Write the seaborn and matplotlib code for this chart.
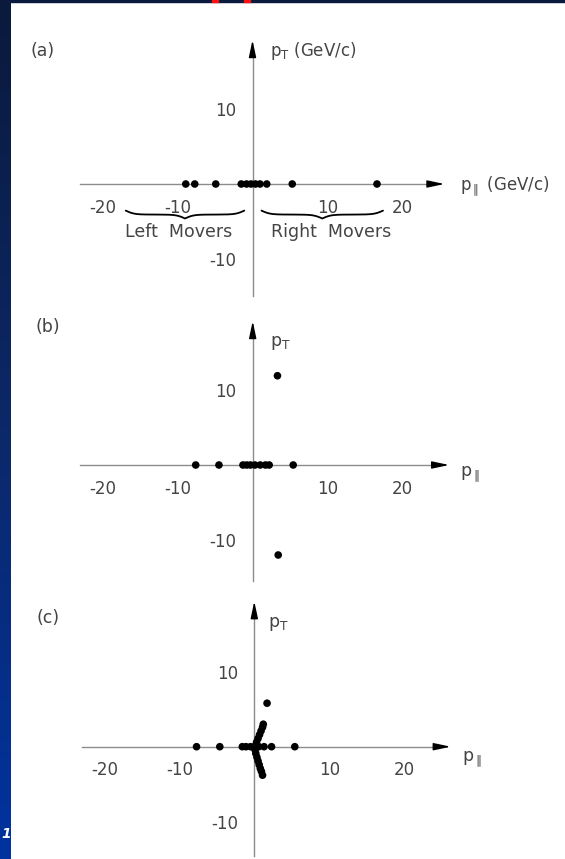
import numpy as np
import pandas as pd
import matplotlib
matplotlib.use("Agg")
import matplotlib.pyplot as plt
from matplotlib.patches import Rectangle
from matplotlib.colors import LinearSegmentedColormap
import seaborn as sns

sns.set_theme(style="white")
plt.rcParams["font.family"] = ["DejaVu Sans"]
plt.rcParams["axes.unicode_minus"] = False
plt.rcParams["mathtext.default"] = "regular"

# Longitudinal / transverse momenta (GeV/c) of the final-state particles
a_plong = [-8.9, -7.7, -4.9, -1.5, -0.8, -0.2, 0.4, 1.0, 1.9, 5.3, 16.6]
a_ptrans = [0, 0, 0, 0, 0, 0, 0, 0, 0, 0, 0]

b_plong = [-7.6, -4.5, -1.3, -0.8, -0.3, 0.3, 1.0, 1.7, 2.2, 5.4, 3.3, 3.4]
b_ptrans = [0, 0, 0, 0, 0, 0, 0, 0, 0, 0, 11.9, -12.0]

c_plong = [-7.7, -4.6, -1.6, -1.1, -0.5, 0.0, 0.6, 1.3, 2.3, 5.4, 1.7,
           0.3, 0.5, 0.7, 0.9, 1.1, 1.2,
           0.1, 0.2, 0.35, 0.5, 0.65, 0.8, 0.95, 1.1]
c_ptrans = [0, 0, 0, 0, 0, 0, 0, 0, 0, 0, 5.8,
            0.6, 1.1, 1.6, 2.1, 2.6, 3.0,
            -0.4, -0.9, -1.4, -1.9, -2.4, -2.9, -3.3, -3.8]

x_ticks = [-20, -10, 10, 20]
x_ticklabels = ["-20", "-10", "10", "20"]
y_ticks = [-10, 10]
y_ticklabels = ["-10", "10"]

panel_tags = ["(a)", "(b)", "(c)"]

W, H = 565, 859
SCALE = 7.5          # pixels per GeV/c
XLIM = (-26, 30)
YLIM = (-16, 20)

fig = plt.figure(figsize=(W / 100, H / 100), dpi=100, facecolor="white")

# slide frame: dark-to-blue strip on the left, thin bar on top
strip = fig.add_axes([0, 0, 11 / W, 1])
grad = np.linspace(0, 1, 256)[:, None]
cmap = LinearSegmentedColormap.from_list("frame", ["#0a1a3c", "#0c2868", "#0033a0"])
strip.imshow(grad, aspect="auto", cmap=cmap, extent=[0, 1, 0, 1])
strip.set_axis_off()
fig.add_artist(Rectangle((0, 1 - 1.6 / H), 1, 1.6 / H, transform=fig.transFigure,
                         color="#0a1a3c", zorder=5))
for x0, x1 in [(212, 218), (244, 250)]:
    fig.add_artist(Rectangle((x0 / W, 1 - 1.6 / H), (x1 - x0) / W, 1.6 / H,
                             transform=fig.transFigure, color="#ff1010", zorder=6))
fig.text(1 / W, 1 - 834 / H, "1", color="white", fontsize=10, fontweight="bold",
         fontstyle="italic", ha="left", va="center")

AX_COLOR = "#8c8c8c"
TICK_COLOR = "#555555"
TEXT_COLOR = "#444444"


def make_panel(x0, y0):
    left = (x0 + XLIM[0] * SCALE) / W
    width = (XLIM[1] - XLIM[0]) * SCALE / W
    top_px = y0 - YLIM[1] * SCALE
    hpx = (YLIM[1] - YLIM[0]) * SCALE
    ax = fig.add_axes([left, 1 - (top_px + hpx) / H, width, hpx / H])
    ax.set_facecolor("none")
    ax.set_xlim(XLIM)
    ax.set_ylim(YLIM)
    return ax


def style_axes(ax, xb, yb):
    for s in ["top", "right"]:
        ax.spines[s].set_visible(False)
    ax.spines["left"].set_position(("data", 0))
    ax.spines["bottom"].set_position(("data", 0))
    for s in ["left", "bottom"]:
        ax.spines[s].set_color(AX_COLOR)
        ax.spines[s].set_linewidth(1.0)
    ax.spines["bottom"].set_bounds(*xb)
    ax.spines["left"].set_bounds(*yb)
    ax.set_xticks(x_ticks, x_ticklabels)
    ax.set_yticks(y_ticks, y_ticklabels)
    ax.tick_params(axis="both", direction="inout", length=8, width=1.0,
                   color=TICK_COLOR, labelcolor=TEXT_COLOR, labelsize=12)
    ax.tick_params(axis="x", pad=6.5)
    ax.tick_params(axis="y", pad=7.5)
    ax.set_xlabel("")
    ax.set_ylabel("")
    arrow = "-|>,head_length=0.85,head_width=0.18"
    ax.annotate("", xy=(xb[1] + 1.6, 0), xytext=(xb[1], 0),
                arrowprops=dict(arrowstyle=arrow, color="black", lw=1,
                                shrinkA=0, shrinkB=0), annotation_clip=False)
    ax.annotate("", xy=(0, yb[1] + 1.6), xytext=(0, yb[1]),
                arrowprops=dict(arrowstyle=arrow, color="black", lw=1,
                                shrinkA=0, shrinkB=0), annotation_clip=False)


def draw_points(ax, px, pt):
    df = pd.DataFrame({"p_long": px, "p_trans": pt})
    sns.scatterplot(data=df, x="p_long", y="p_trans", ax=ax, color="black",
                    s=30, edgecolor="none", legend=False, zorder=4, clip_on=False)


def brace(ax, x0, x1, y_top, depth, beta=14.0, n=200):
    half = np.linspace(0, 1, n)
    yh = 1 / (1 + np.exp(-beta * half)) + 1 / (1 + np.exp(-beta * (half - 1))) - 0.5
    yh = yh - yh[0]
    yh = yh / yh[-1]
    shape = np.concatenate([yh, yh[-2::-1]])
    xs = np.linspace(x0, x1, shape.size)
    ax.plot(xs, y_top - depth * shape, color="black", lw=1.3, solid_capstyle="round")


def px_to_data(ax_origin, px, py):
    x0, y0 = ax_origin
    return (px - x0) / SCALE, (y0 - py) / SCALE


# ---- (a) ----
orig_a = (252.5, 184.0)
ax_a = make_panel(*orig_a)
draw_points(ax_a, a_plong, a_ptrans)
style_axes(ax_a, (-23, 24.0), (-14.9, 17.6))
brace(ax_a, -16.9, -1.1, -3.55, 1.05)
brace(ax_a, 1.2, 17.4, -3.55, 1.05)
ax_a.text(-9.9, -6.4, "Left  Movers", ha="center", va="center", fontsize=12.5,
          color=TEXT_COLOR)
ax_a.text(10.5, -6.4, "Right  Movers", ha="center", va="center", fontsize=12.5,
          color=TEXT_COLOR)
ax_a.text(*px_to_data(orig_a, 270, 51), r"p$_T$ (GeV/c)", ha="left", va="center",
          fontsize=12, color=TEXT_COLOR)
ax_a.text(*px_to_data(orig_a, 460, 186), r"p$_\parallel$ (GeV/c)", ha="left",
          va="center", fontsize=12, color=TEXT_COLOR)
ax_a.text(*px_to_data(orig_a, 43, 51), panel_tags[0], ha="center", va="center",
          fontsize=12.5, color=TEXT_COLOR)

# ---- (b) ----
orig_b = (252.7, 465.0)
ax_b = make_panel(*orig_b)
draw_points(ax_b, b_plong, b_ptrans)
style_axes(ax_b, (-23, 24.6), (-15.5, 17.6))
ax_b.text(*px_to_data(orig_b, 270, 343), r"p$_T$", ha="left", va="center",
          fontsize=12.5, color=TEXT_COLOR)
ax_b.text(*px_to_data(orig_b, 460, 474), r"p$_\parallel$", ha="left", va="center",
          fontsize=12.5, color=TEXT_COLOR)
ax_b.text(*px_to_data(orig_b, 48, 327), panel_tags[1], ha="center", va="center",
          fontsize=12.5, color=TEXT_COLOR)

# ---- (c) ----
orig_c = (254.3, 746.7)
ax_c = make_panel(*orig_c)
draw_points(ax_c, c_plong, c_ptrans)
style_axes(ax_c, (-23, 24.6), (-14.6, 17.8))
ax_c.text(*px_to_data(orig_c, 268, 624), r"p$_T$", ha="left", va="center",
          fontsize=12.5, color=TEXT_COLOR)
ax_c.text(*px_to_data(orig_c, 462, 759), r"p$_\parallel$", ha="left", va="center",
          fontsize=12.5, color=TEXT_COLOR)
ax_c.text(*px_to_data(orig_c, 48, 618), panel_tags[2], ha="center", va="center",
          fontsize=12.5, color=TEXT_COLOR)

fig.savefig("out.png", dpi=100, facecolor="white")
